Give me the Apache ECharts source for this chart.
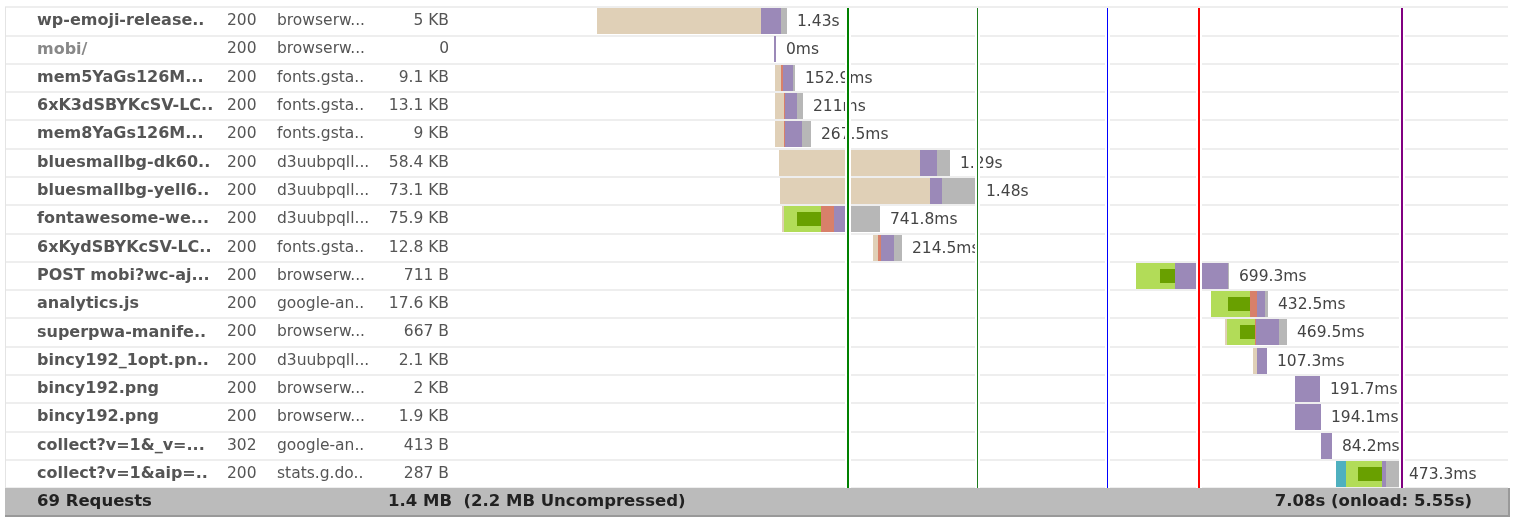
<!DOCTYPE html>
<html><head><meta charset="utf-8">
<script src="https://cdn.jsdelivr.net/npm/echarts@6/dist/echarts.min.js"></script>
<style>html,body{margin:0;padding:0;background:#fff}#c{width:1513px;height:517px}</style>
</head><body><div id="c"></div>
<script>
// ---- data (ms) ----
const names = ['wp-emoji-release..','mobi/','mem5YaGs126M...','6xK3dSBYKcSV-LC..','mem8YaGs126M...','bluesmallbg-dk60..','bluesmallbg-yell6..','fontawesome-we...','6xKydSBYKcSV-LC..','POST mobi?wc-aj...','analytics.js','superpwa-manife..','bincy192_1opt.pn..','bincy192.png','bincy192.png','collect?v=1&_v=...','collect?v=1&aip=..'];
const statuses = ['200','200','200','200','200','200','200','200','200','200','200','200','200','200','200','302','200'];
const domains = ['browserw...','browserw...','fonts.gsta..','fonts.gsta..','fonts.gsta..','d3uubpqll...','d3uubpqll...','d3uubpqll...','fonts.gsta..','browserw...','google-an..','browserw...','d3uubpqll...','browserw...','browserw...','google-an..','stats.g.do..'];
const sizes = ['5 KB','0','9.1 KB','13.1 KB','9 KB','58.4 KB','73.1 KB','75.9 KB','12.8 KB','711 B','17.6 KB','667 B','2.1 KB','2 KB','1.9 KB','413 B','287 B'];
const starts    = [1017,2351,2359,2359,2359,2389,2396,2411,3099,5079,5644,5750,5961,6277,6277,6473,6586];
const blocking  = [1236,0,48,67,64,1062,1130,13,38,0,0,15,30,0,0,0,0];
const dns       = [0,0,0,0,0,0,0,0,0,0,0,0,0,0,0,0,76];
const connect   = [0,0,0,0,0,0,0,281,0,294,294,211,0,0,0,0,268];
const ssl       = [0,0,0,0,0,0,0,181,0,113,166,113,0,0,0,0,176];
const sending   = [0,0,14,11,14,0,0,96,18,0,55,10,0,0,0,0,0];
const waiting   = [151,0,76,86,122,128,92,98,100,397,60,171,77.3,191.7,194.1,84.2,31];
const receiving = [43,0,15,47,67.5,100,258,253.8,58.5,8.3,23.5,62.5,0,0,0,0,98.3];
const durationLabels = ['1.43s','0ms','152.9ms','211ms','267.5ms','1.29s','1.48s','741.8ms','214.5ms','699.3ms','432.5ms','469.5ms','107.3ms','191.7ms','194.1ms','84.2ms','473.3ms'];
const eventTimes = [2909, 3885, 4864, 5550, 7080];
const footerRequests = '69 Requests';
const footerSize = '1.4 MB  (2.2 MB Uncompressed)';
const footerTime = '7.08s (onload: 5.55s)';

// ---- styles ----
const C = {blocking:'#e0d0b7', dns:'#4fb0bf', connect:'#b2dc58', ssl:'#69a000', sending:'#d8806a', waiting:'#9b89b8', receiving:'#b7b7b7'};
const eventStyle = [{c:'#008000',w:2},{c:'#1c7a1c',w:1},{c:'#0000ff',w:1},{c:'#ff0000',w:2},{c:'#800080',w:2}];
const FONT = '"DejaVu Sans", Verdana, sans-serif';
const AXIS_MAX = 7882;

const reqData = names.map((n,i)=>[i, starts[i], blocking[i], dns[i], connect[i], ssl[i], sending[i], waiting[i], receiving[i]]);

function renderReq(params, api){
  const i = api.value(0);
  const t0 = api.value(1);
  const band = api.size([0,1])[1];
  const h = Math.round(band - 2);
  const cy = api.coord([t0, i])[1];
  const yTop = Math.round(cy - h/2);
  const X = t => Math.round(api.coord([t, i])[0]);
  const children = [];
  let t = t0;
  const segs = [['blocking',2],['dns',3],['connect',4],['sending',6],['waiting',7],['receiving',8]];
  let total = 0;
  segs.forEach(([k, idx])=>{
    const d = api.value(idx);
    if (d > 0){
      const x1 = X(t), x2 = X(t+d);
      children.push({type:'rect', shape:{x:x1, y:yTop, width:Math.max(1,x2-x1), height:h}, style:{fill:C[k]}});
      if (k === 'connect'){
        const s = api.value(5);
        if (s > 0){
          const xs = X(t+d-s);
          children.push({type:'rect', shape:{x:xs, y:yTop+6, width:x2-xs, height:h-12}, style:{fill:C.ssl}});
        }
      }
      t += d; total += d;
    }
  });
  let xEnd = X(t);
  if (total === 0){
    children.push({type:'rect', shape:{x:xEnd, y:yTop, width:2, height:h}, style:{fill:C.waiting}});
    xEnd += 2;
  }
  children.push({type:'text', style:{x:xEnd+10, y:cy+1, text:durationLabels[params.dataIndex], fill:'#444', fontSize:15.5, fontFamily:FONT, align:'left', verticalAlign:'middle'}});
  return {type:'group', children};
}

function renderEvent(params, api){
  const cs = params.coordSys;
  const st = eventStyle[params.dataIndex];
  const x = Math.round(api.coord([api.value(0), 0])[0] - st.w/2);
  const y1 = cs.y + 1, y2 = cs.y + cs.height;
  return {type:'group', children:[
    {type:'rect', shape:{x:x-2, y:y1, width:st.w+4, height:y2-y1}, style:{fill:'#fff'}},
    {type:'rect', shape:{x:x, y:y1, width:st.w, height:y2-y1}, style:{fill:st.c}}
  ]};
}

const chart = echarts.init(document.getElementById('c'), null, {renderer:'canvas'});
const splitLine = {show:true, interval:0, lineStyle:{color:'#eeeeee', width:2}};
chart.setOption({
  animation:false,
  grid:[
    {left:462, right:5, top:7, height:481},
    {left:5, width:457, top:7, height:481}
  ],
  xAxis:[
    {gridIndex:0, type:'value', min:0, max:AXIS_MAX, show:false},
    {gridIndex:1, type:'value', min:0, max:1, show:false}
  ],
  yAxis:[
    {gridIndex:0, type:'category', inverse:true, data:names,
     axisLine:{show:false}, axisTick:{show:false}, splitLine,
     axisLabel:{interval:0, margin:13,
       formatter:(v, idx)=>`{${idx===1?'m':'n'}|${names[idx]}}{s|${statuses[idx]}}{d|${domains[idx]}}{z|${sizes[idx]}}`,
       rich:{
         n:{width:190, align:'left', fontWeight:'bold', color:'#555', fontSize:16, fontFamily:FONT},
         m:{width:190, align:'left', fontWeight:'bold', color:'#888', fontSize:16, fontFamily:FONT},
         s:{width:50, align:'left', color:'#555', fontSize:15.5, fontFamily:FONT},
         d:{width:110, align:'left', color:'#555', fontSize:15.5, fontFamily:FONT},
         z:{width:62, align:'right', color:'#555', fontSize:15.5, fontFamily:FONT}
       }}},
    {gridIndex:1, type:'category', inverse:true, data:names,
     axisLine:{show:false}, axisTick:{show:false}, axisLabel:{show:false}, splitLine}
  ],
  series:[
    {type:'custom', xAxisIndex:0, yAxisIndex:0, data:reqData, encode:{x:1, y:0}, renderItem:renderReq, clip:false, z:2},
    {type:'custom', xAxisIndex:0, yAxisIndex:0, data:eventTimes.map(t=>[t,0]), encode:{x:0, y:1}, renderItem:renderEvent, clip:false, z:10},
    {type:'custom', xAxisIndex:1, yAxisIndex:1, data:[], renderItem:()=>null}
  ],
  graphic:[
    {type:'line', shape:{x1:5.5, y1:7, x2:5.5, y2:488}, style:{stroke:'#e4e4e4', lineWidth:1}, z:1},
    {type:'rect', shape:{x:5, y:488, width:1505, height:29}, style:{fill:'#999'}, z:20},
    {type:'rect', shape:{x:5, y:488, width:1503, height:27}, style:{fill:'#bbbbbb'}, z:21},
    {type:'text', style:{x:37, y:502, text:footerRequests, fill:'#222', fontSize:16.5, fontWeight:'bold', fontFamily:FONT, verticalAlign:'middle'}, z:22},
    {type:'text', style:{x:388, y:502, text:footerSize, fill:'#222', fontSize:16.5, fontWeight:'bold', fontFamily:FONT, verticalAlign:'middle'}, z:22},
    {type:'text', style:{x:1472, y:502, text:footerTime, fill:'#222', fontSize:16.5, fontWeight:'bold', fontFamily:FONT, align:'right', verticalAlign:'middle'}, z:22}
  ]
});
</script></body></html>
